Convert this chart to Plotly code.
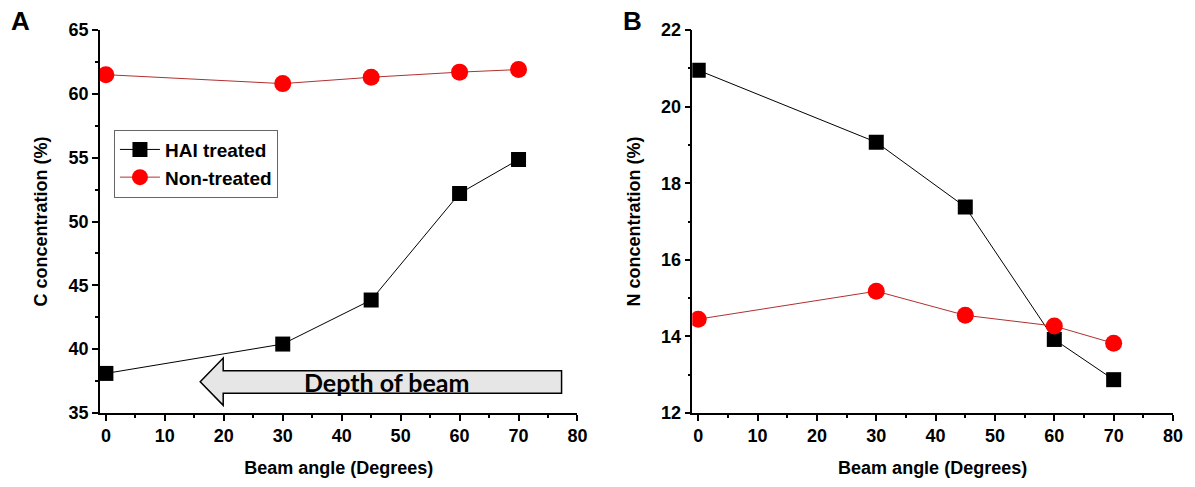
import plotly.graph_objects as go

angles = [0, 30, 45, 60, 70]
c_hai = [38.1, 40.4, 43.85, 52.2, 54.85]
c_non = [61.5, 60.8, 61.3, 61.7, 61.9]
n_hai = [20.95, 19.07, 17.38, 13.92, 12.87]
n_non = [14.45, 15.18, 14.55, 14.27, 13.82]

FONT = "Liberation Sans, Arial, sans-serif"
BLACK = "#000000"
RED = "#ff0000"
LINE_RED = "#b03030"

fig = go.Figure()

def add_pair(xa, ya, hai, non, show):
    fig.add_trace(go.Scatter(x=angles, y=hai, name="<b>HAI treated</b>", mode="lines+markers",
                             line=dict(color=BLACK, width=1),
                             marker=dict(symbol="square", size=15, color=BLACK),
                             xaxis=xa, yaxis=ya, showlegend=show))
    fig.add_trace(go.Scatter(x=angles, y=non, name="<b>Non-treated</b>", mode="lines+markers",
                             line=dict(color=LINE_RED, width=1),
                             marker=dict(symbol="circle", size=17, color=RED),
                             xaxis=xa, yaxis=ya, showlegend=show))

add_pair("x", "y", c_hai, c_non, True)
add_pair("x2", "y2", n_hai, n_non, False)

axis_common = dict(showline=True, linecolor=BLACK, linewidth=1.5, ticks="outside",
                   ticklen=6, tickwidth=1.5, tickcolor=BLACK, showgrid=False, zeroline=False,
                   tickfont=dict(family=FONT, size=18, color=BLACK, weight="bold"),
                   mirror=False)

TITLE_FONT = dict(family=FONT, size=18, color=BLACK)
xtitle = dict(text="<b>Beam angle (Degrees)</b>", font=TITLE_FONT, standoff=16)

fig.update_layout(
    width=1195, height=487,
    margin=dict(l=100, r=15, t=30, b=67),
    plot_bgcolor="white", paper_bgcolor="white",
    xaxis=dict(domain=[0, 0.445], range=[-1, 80], dtick=10,
               minor=dict(dtick=5, ticks="outside", ticklen=3, tickwidth=1.5, tickcolor=BLACK),
               title=xtitle, **axis_common),
    yaxis=dict(domain=[0, 1], range=[35, 65], dtick=5,
               minor=dict(dtick=2.5, ticks="outside", ticklen=3, tickwidth=1.5, tickcolor=BLACK),
               title=dict(text="<b>C concentration (%)</b>", font=TITLE_FONT, standoff=16),
               **axis_common),
    xaxis2=dict(domain=[0.552, 1], range=[-1, 80], dtick=10, anchor="y2",
                minor=dict(dtick=5, ticks="outside", ticklen=3, tickwidth=1.5, tickcolor=BLACK),
                title=xtitle, **axis_common),
    yaxis2=dict(domain=[0, 1], range=[12, 22], dtick=2, anchor="x2",
                minor=dict(dtick=1, ticks="outside", ticklen=3, tickwidth=1.5, tickcolor=BLACK),
                title=dict(text="<b>N concentration (%)</b>", font=TITLE_FONT, standoff=16),
                **axis_common),
    legend=dict(x=0.013, y=0.74, xanchor="left", yanchor="top",
                bordercolor="#666666", borderwidth=1, bgcolor="white",
                font=dict(family=FONT, size=19, color=BLACK), tracegroupgap=0,
                itemwidth=40),
    showlegend=True,
)

# Arrow "Depth of beam"
arrow_path = ("M 16 37.45 L 19.9 39.3 L 19.9 38.3 L 77.3 38.3 L 77.3 36.55 "
              "L 19.9 36.55 L 19.9 35.6 Z")
fig.add_shape(type="path", path=arrow_path, xref="x", yref="y",
              fillcolor="#e6e6e6", line=dict(color=BLACK, width=1.5), layer="below")
fig.add_annotation(x=47.6, y=37.45, xref="x", yref="y", text="<b>Depth of beam</b>",
                   showarrow=False, font=dict(family="Lato, Open Sans, sans-serif", size=25, color=BLACK))

# Panel labels (pixel positions converted to paper coords)
W_PLOT = 1195 - 100 - 15
H_PLOT = 487 - 30 - 67
fig.add_annotation(x=(8 - 100) / W_PLOT, y=(487 - 67 - 21) / H_PLOT, xref="paper", yref="paper",
                   xanchor="left", yanchor="middle",
                   text="<b>A</b>", showarrow=False, font=dict(family=FONT, size=26, color=BLACK))
fig.add_annotation(x=(624 - 100) / W_PLOT, y=(487 - 67 - 21) / H_PLOT, xref="paper", yref="paper",
                   xanchor="left", yanchor="middle",
                   text="<b>B</b>", showarrow=False, font=dict(family=FONT, size=26, color=BLACK))

fig.write_html("out.html", config={"displayModeBar": False},
               post_script="document.body.style.margin='0';")
